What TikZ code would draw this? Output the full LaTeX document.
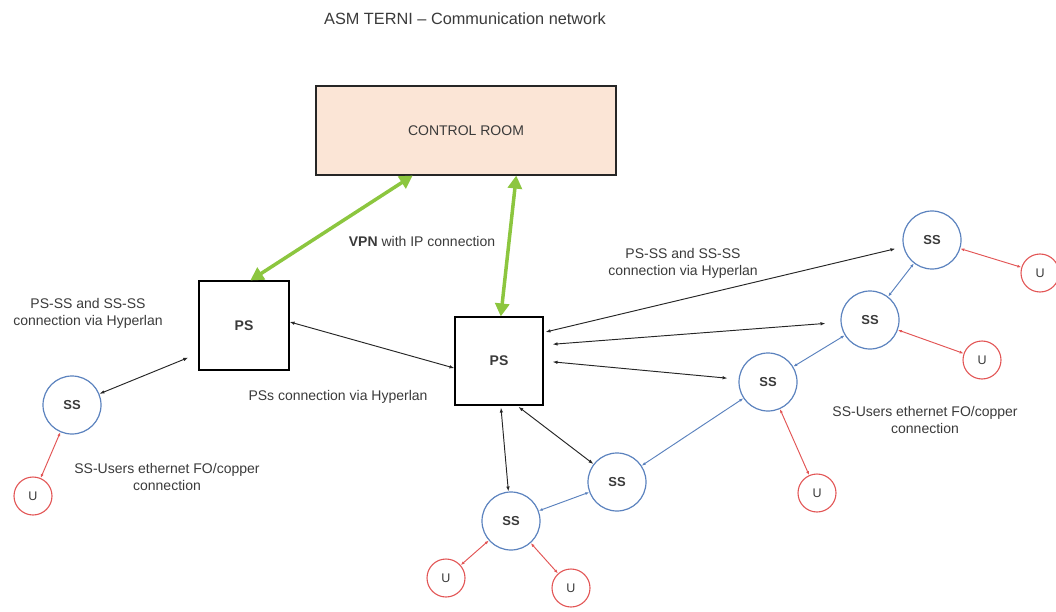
\documentclass[tikz,border=0pt]{standalone}
\usepackage{fontspec}
\setmainfont{Liberation Sans}
\usetikzlibrary{arrows.meta,calc}
\definecolor{roomfill}{HTML}{FBE5D6}
\definecolor{vpngreen}{HTML}{8CC63F}
\definecolor{ssblue}{HTML}{5B82BE}
\definecolor{ured}{HTML}{E25555}
\definecolor{txt}{HTML}{3A3A3A}
\tikzset{
  psbox/.style={draw=black, line width=1.1pt, minimum width=89pt, minimum height=89pt, inner sep=0pt,
    font=\fontsize{14}{16}\selectfont\bfseries, text=txt},
  roombox/.style={draw=black!85, line width=1.1pt, fill=roomfill, minimum width=300pt, minimum height=89pt,
    inner sep=0pt, font=\fontsize{14}{16}\selectfont, text=txt},
  ssnode/.style={circle, draw=ssblue, line width=1.2pt, minimum size=58pt, inner sep=0pt,
    font=\fontsize{13}{15}\selectfont\bfseries, text=txt},
  unode/.style={circle, draw=ured, line width=1.1pt, minimum size=38pt, inner sep=0pt,
    font=\fontsize{12.5}{14}\selectfont, text=txt},
  lbl/.style={align=center, font=\fontsize{14}{17}\selectfont, text=txt, inner sep=0pt},
  vpn/.style={draw=vpngreen, line width=3.5pt, {Triangle[length=13pt,width=14pt]}-{Triangle[length=13pt,width=14pt]}},
  link/.style={draw=black!85, line width=0.95pt, {Latex[length=5pt,width=3.5pt]}-{Latex[length=5pt,width=3.5pt]}},
  sslink/.style={draw=ssblue, line width=0.95pt, {Latex[length=4pt,width=3pt]}-{Latex[length=4pt,width=3pt]}},
  ulink/.style={draw=ured, line width=0.95pt, {Latex[length=4pt,width=3pt]}-{Latex[length=4pt,width=3pt]}},
}
\begin{document}
\begin{tikzpicture}[x=1pt, y=-1pt]
\useasboundingbox (0,0) rectangle (1056,612);

% title
\node[lbl, font=\fontsize{16.3}{19}\selectfont] (title) at (465,19) {ASM TERNI -- Communication network};

% main stations
\node[roombox] (cr) at (466,130.5) {CONTROL ROOM};
\node[psbox, minimum width=90pt] (psL) at (244,325.5) {PS};
\node[psbox, minimum width=88pt, minimum height=88pt] (psR) at (499,361) {PS};

% secondary stations
\node[ssnode] (ssL)  at (72,405)  {SS};
\node[ssnode] (ssT)  at (932,240) {SS};
\node[ssnode] (ssR)  at (870,320) {SS};
\node[ssnode] (ssM)  at (768,382) {SS};
\node[ssnode] (ssLo) at (617,482) {SS};
\node[ssnode] (ssB)  at (511,521) {SS};

% users
\node[unode] (uL)  at (33,496)   {U};
\node[unode] (uT)  at (1040,273) {U};
\node[unode] (uR)  at (982,360)  {U};
\node[unode] (uM)  at (817,493)  {U};
\node[unode] (uB1) at (446,578)  {U};
\node[unode] (uB2) at (571,588)  {U};

% labels
\node[lbl] (vpnlbl) at (422,241) {\textbf{VPN} with IP connection};
\node[lbl] (hypL) at (88,313) {PS-SS and SS-SS\\connection via Hyperlan};
\node[lbl] (hypR) at (683,263) {PS-SS and SS-SS\\connection via Hyperlan};
\node[lbl] (pss)  at (338,397) {PSs connection via Hyperlan};
\node[lbl] (usrL) at (167,477) {SS-Users ethernet FO/copper\\connection};
\node[lbl] (usrR) at (925,420) {SS-Users ethernet FO/copper\\connection};

% VPN links to the control room
\draw[vpn] ($(cr.south west)!0.323!(cr.south east)$) -- ($(psL.north west)!0.57!(psL.north east)$);
\draw[vpn] ($(cr.south west)!0.667!(cr.south east)$) -- ($(psR.north west)!0.52!(psR.north east)$);

% Hyperlan links
\draw[link, shorten >=11pt] (ssL) -- ($(psL.north west)!0.81!(psL.south west)$);
\draw[link] ($(psL.north east)!0.46!(psL.south east)$) -- ($(psR.north west)!0.58!(psR.south west)$);
\draw[link, shorten <=2pt, shorten >=8pt] ($(psR.north east)!0.18!(psR.south east)$) -- (ssT);
\draw[link, shorten <=9pt, shorten >=15pt] ($(psR.north east)!0.32!(psR.south east)$) -- (ssR);
\draw[link, shorten <=9pt, shorten >=11pt] ($(psR.north east)!0.50!(psR.south east)$) -- (ssM);
\draw[link, shorten <=2pt] ($(psR.south west)!0.70!(psR.south east)$) -- (ssLo);
\draw[link, shorten <=2pt] ($(psR.south west)!0.52!(psR.south east)$) -- (ssB);

% SS-SS links
\draw[sslink] (ssT) -- (ssR);
\draw[sslink] (ssR) -- (ssM);
\draw[sslink] (ssM) -- (ssLo);
\draw[sslink] (ssLo) -- (ssB);

% SS-user links
\draw[ulink] (ssL) -- (uL);
\draw[ulink] (ssT) -- (uT);
\draw[ulink] (ssR) -- (uR);
\draw[ulink] (ssM) -- (uM);
\draw[ulink] (ssB) -- (uB1);
\draw[ulink] (ssB) -- (uB2);
\end{tikzpicture}
\end{document}
